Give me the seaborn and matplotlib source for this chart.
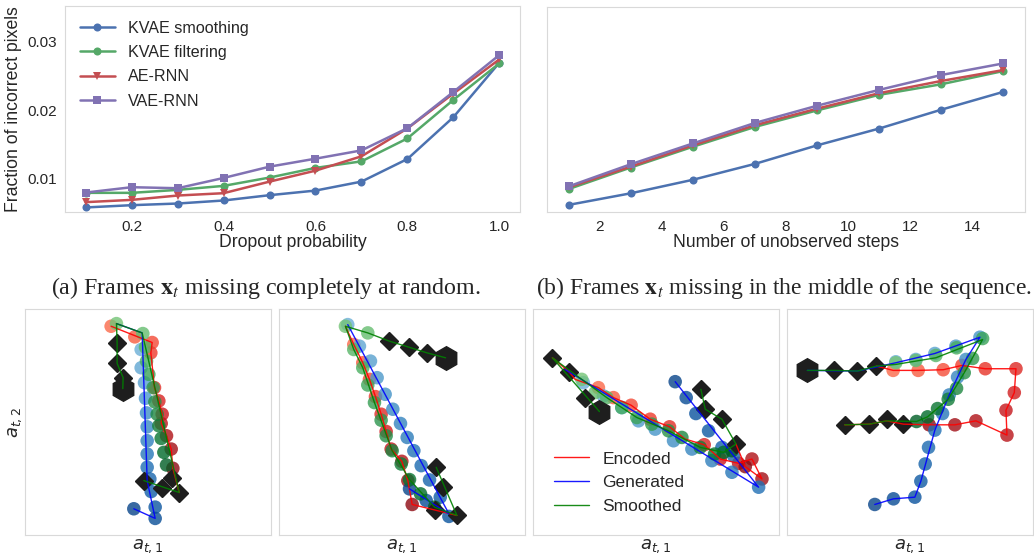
import numpy as np
import matplotlib
matplotlib.use("Agg")
import matplotlib.pyplot as plt
import seaborn as sns

# ---- top row: error curves ----
dropout_prob = [0.1, 0.2, 0.3, 0.4, 0.5, 0.6, 0.7, 0.8, 0.9, 1.0]
drop_kvae_smooth = [0.00586, 0.00619, 0.00643, 0.00687, 0.00764, 0.00831, 0.00961, 0.01289, 0.01896, 0.02687]
drop_kvae_filter = [0.00798, 0.00798, 0.00841, 0.00899, 0.01020, 0.01160, 0.01255, 0.01588, 0.02147, 0.02677]
drop_ae_rnn = [0.00663, 0.00696, 0.00759, 0.00793, 0.00961, 0.01120, 0.01328, 0.01733, 0.02239, 0.02735]
drop_vae_rnn = [0.00802, 0.00880, 0.00865, 0.01014, 0.01178, 0.01294, 0.01414, 0.01737, 0.02263, 0.02798]

unobs_steps = [1, 3, 5, 7, 9, 11, 13, 15]
steps_kvae_smooth = [0.00624, 0.00793, 0.00990, 0.01222, 0.01492, 0.01737, 0.02012, 0.02272]
steps_kvae_filter = [0.00855, 0.01169, 0.01472, 0.01761, 0.02002, 0.02229, 0.02383, 0.02576]
steps_ae_rnn = [0.00880, 0.01183, 0.01492, 0.01786, 0.02027, 0.02253, 0.02431, 0.02590]
steps_vae_rnn = [0.00894, 0.01217, 0.01520, 0.01819, 0.02070, 0.02301, 0.02518, 0.02687]

method_names = ["KVAE smoothing", "KVAE filtering", "AE-RNN", "VAE-RNN"]
method_markers = ["o", "o", "v", "s"]

# ---- bottom row: latent trajectories (read in picture pixels, y down) ----
# panel 1
p1_start = [(297, 243)]
p1_obs = [(280, 104), (280, 167), (297, 212), (360, 520), (413, 541), (445, 513), (466, 558)]
p1_enc = [(262, 55), (333, 87), (385, 104), (381, 135), (392, 240), (405, 280), (415, 320),
          (412, 348), (428, 385), (442, 425), (447, 483)]
p1_gen = [(352, 125), (352, 180), (362, 225), (365, 272), (368, 316), (370, 358), (370, 400),
          (370, 440), (370, 480), (378, 515), (382, 553), (394, 600), (394, 634), (330, 605)]
p1_smo = [(278, 47), (357, 77), (365, 118), (368, 160), (375, 200), (388, 240), (393, 283),
          (400, 320), (405, 355), (412, 393), (420, 435), (428, 473)]
p1_enc_line = [(262, 55), (385, 104), (381, 135), (392, 240), (405, 280), (415, 320), (412, 348),
               (428, 385), (442, 425), (447, 483), (466, 556)]
p1_gen_line = [(278, 47), (355, 75), (370, 520), (394, 634), (330, 605)]
p1_smo_line = [(297, 243), (298, 210), (280, 167), (280, 104), (278, 47), (355, 75),
               (466, 556), (360, 520)]

# panel 2
p2_start = [(503, 150)]
p2_obs = [(335, 100), (393, 118), (447, 135), (475, 478), (495, 540), (470, 608), (537, 625)]
p2_enc = [(228, 110), (255, 165), (275, 215), (293, 267), (310, 320), (325, 372), (340, 425),
          (372, 462), (390, 520), (403, 592)]
p2_gen = [(210, 50), (245, 115), (278, 160), (298, 210), (322, 260), (345, 305), (368, 348),
          (388, 390), (408, 430), (430, 475), (455, 518), (487, 570), (513, 628), (445, 580),
          (395, 545)]
p2_smo = [(203, 55), (270, 75), (228, 125), (255, 180), (270, 232), (290, 285), (310, 338),
          (325, 385), (343, 430), (370, 470), (395, 517), (428, 560), (470, 600)]
p2_enc_line = [(203, 55), (228, 110), (255, 165), (275, 215), (293, 267), (310, 320), (325, 372),
               (340, 425), (372, 462), (390, 520), (403, 592), (537, 625)]
p2_gen_line = [(210, 50), (513, 620), (395, 545)]
p2_smo_line = [(503, 150), (447, 135), (393, 118), (335, 100), (270, 75), (203, 55), (228, 125),
               (255, 180), (290, 285), (343, 430), (395, 517), (470, 600), (537, 625), (475, 480)]

# panel 3
p3_start = [(203, 312)]
p3_obs = [(62, 150), (113, 193), (160, 272), (507, 245), (520, 305), (570, 335), (612, 410)]
p3_enc = [(200, 240), (245, 270), (298, 293), (355, 335), (413, 358), (517, 412), (565, 455),
          (620, 468), (660, 455), (690, 515), (640, 478)]
p3_gen = [(155, 225), (215, 265), (270, 300), (320, 340), (370, 365), (425, 400), (480, 425),
          (540, 460), (600, 495), (680, 540), (605, 445), (570, 420), (530, 370), (492, 318),
          (463, 270), (430, 222)]
p3_smo = [(150, 215), (190, 255), (225, 270), (270, 300), (315, 330), (360, 350), (410, 370),
          (450, 390), (505, 420), (548, 440), (575, 435), (600, 430)]
p3_enc_line = [(62, 150), (113, 193), (130, 215), (200, 240), (245, 270), (298, 293), (355, 335),
               (413, 358), (460, 395), (517, 412), (565, 455), (620, 468), (660, 455), (690, 515),
               (640, 478), (612, 410)]
p3_gen_line = [(100, 185), (680, 540), (430, 222)]
p3_smo_line = [(203, 312), (62, 150), (150, 215), (225, 270), (315, 330), (410, 370), (505, 420),
               (575, 435), (612, 410), (570, 335), (520, 305), (507, 245)]

# panel 4
p4_start = [(65, 188)]
p4_obs = [(145, 188), (215, 190), (272, 175), (177, 352), (250, 350), (303, 333), (353, 350)]
p4_enc = [(322, 188), (397, 188), (472, 186), (528, 173), (598, 183), (690, 183), (685, 255),
          (660, 308), (663, 383), (570, 340), (507, 352), (430, 352)]
p4_gen = [(330, 162), (390, 155), (447, 137), (510, 115), (582, 88), (540, 155), (515, 208),
          (490, 262), (470, 318), (447, 368), (428, 420), (418, 470), (405, 522), (387, 570),
          (323, 575), (267, 592)]
p4_smo = [(330, 165), (390, 158), (450, 143), (512, 120), (590, 92), (560, 152), (535, 195),
          (512, 242), (487, 275), (455, 303), (425, 328), (392, 342)]
p4_enc_line = [(272, 175), (322, 188), (397, 188), (472, 186), (528, 173), (598, 183), (690, 183),
               (685, 255), (660, 308), (663, 383), (570, 340), (507, 352), (430, 352), (353, 350),
               (303, 340), (250, 350), (177, 352)]
p4_gen_line = [(65, 188), (215, 190), (330, 165), (447, 137), (582, 88), (540, 155), (490, 262),
               (447, 368), (405, 522), (387, 570), (323, 575), (267, 592)]
p4_smo_line = [(65, 188), (145, 188), (215, 190), (272, 175), (330, 170), (450, 150), (590, 95),
               (535, 195), (487, 275), (425, 328), (392, 342), (303, 340), (250, 350), (177, 352)]

legend_labels = ["Encoded", "Generated", "Smoothed"]

sns.set_style("whitegrid", {"axes.grid": False})
plt.rcParams["font.family"] = ["Liberation Sans", "DejaVu Sans"]

colors = sns.color_palette("deep6")[:4]
fig = plt.figure(figsize=(10.34, 5.56), dpi=100)
W, H = 1034.0, 556.0


def add_ax(left, top, right, bottom):
    return fig.add_axes([left / W, 1 - bottom / H, (right - left) / W, (bottom - top) / H])


# top left
ax1 = add_ax(65, 6, 520, 212)
for ys, name, mk, c in zip([drop_kvae_smooth, drop_kvae_filter, drop_ae_rnn, drop_vae_rnn],
                           method_names, method_markers, colors):
    sns.lineplot(x=dropout_prob, y=ys, ax=ax1, color=c, marker=mk, markersize=5.8,
                 markeredgewidth=0, linewidth=1.8, label=name)
ax1.set_ylim(0.0052, 0.0351)
ax1.set_yticks([0.01, 0.02, 0.03])
ax1.set_yticklabels(["0.01", "0.02", "0.03"])
ax1.set_xticks([0.2, 0.4, 0.6, 0.8, 1.0])
ax1.set_xlabel("Dropout probability", fontsize=12.7, labelpad=0)
ax1.set_ylabel("Fraction of incorrect pixels", fontsize=12.7, labelpad=4)
ax1.tick_params(labelsize=11, pad=2)
ax1.legend(loc="upper left", frameon=False, fontsize=11.6, handlelength=2.2,
           borderaxespad=0.5, labelspacing=0.58)

# top right
ax2 = add_ax(547, 7, 1025, 212)
for ys, c, mk in zip([steps_kvae_smooth, steps_kvae_filter, steps_ae_rnn, steps_vae_rnn],
                     colors, method_markers):
    sns.lineplot(x=unobs_steps, y=ys, ax=ax2, color=c, marker=mk, markersize=5.8,
                 markeredgewidth=0, linewidth=1.8)
ax2.set_ylim(0.0052, 0.0351)
ax2.set_yticks([0.01, 0.02, 0.03])
ax2.set_yticklabels([])
ax2.set_xlim(0.3, 15.7)
ax2.set_xticks([2, 4, 6, 8, 10, 12, 14])
ax2.set_xlabel("Number of unobserved steps", fontsize=12.7, labelpad=0)
ax2.tick_params(labelsize=11, pad=2)

for ax in (ax1, ax2):
    for s in ax.spines.values():
        s.set_color("0.85")

fig.text(266 / W, 1 - 288 / H, r"(a) Frames $\mathbf{x}_t$ missing completely at random.",
         ha="center", va="center", fontsize=17.3, family="Liberation Serif", math_fontfamily="stix")
fig.text(784 / W, 1 - 288 / H, r"(b) Frames $\mathbf{x}_t$ missing in the middle of the sequence.",
         ha="center", va="center", fontsize=17, family="Liberation Serif", math_fontfamily="stix")


def draw_panel(ax, enc, gen, smo, enc_line, gen_line, smo_line, obs, start):
    for pts, cmap_name in ((enc, "Reds"), (gen, "Blues"), (smo, "Greens")):
        pts = np.array(pts, dtype=float)
        cmap = sns.color_palette(cmap_name, as_cmap=True)
        cols = cmap(np.linspace(0.5, 0.92, len(pts)))
        ax.scatter(pts[:, 0], pts[:, 1], s=95, c=cols, alpha=0.8, edgecolors="none", zorder=2)
    obs = np.array(obs, dtype=float)
    start = np.array(start, dtype=float)
    ax.plot(obs[:, 0], obs[:, 1], "D", color="#1e1e1e", markersize=9, zorder=3)
    ax.plot(start[:, 0], start[:, 1], "h", color="#1e1e1e", markersize=17, zorder=3)
    handles = []
    for line, c in ((enc_line, "red"), (gen_line, "blue"), (smo_line, "green")):
        line = np.array(line, dtype=float)
        h, = ax.plot(line[:, 0], line[:, 1], color=c, linewidth=1.0, zorder=4, alpha=0.9)
        handles.append(h)
    ax.set_xlim(4, 741)
    ax.set_ylim(684, 3)
    ax.set_xticks([])
    ax.set_yticks([])
    for s in ax.spines.values():
        s.set_color("0.85")
    ax.set_xlabel(r"$a_{t,1}$", fontsize=13, labelpad=2)
    return handles


panels = [
    (p1_enc, p1_gen, p1_smo, p1_enc_line, p1_gen_line, p1_smo_line, p1_obs, p1_start),
    (p2_enc, p2_gen, p2_smo, p2_enc_line, p2_gen_line, p2_smo_line, p2_obs, p2_start),
    (p3_enc, p3_gen, p3_smo, p3_enc_line, p3_gen_line, p3_smo_line, p3_obs, p3_start),
    (p4_enc, p4_gen, p4_smo, p4_enc_line, p4_gen_line, p4_smo_line, p4_obs, p4_start),
]
lefts = [25, 279, 533, 787]
for i, (left, args) in enumerate(zip(lefts, panels)):
    ax = add_ax(left, 309, left + 246, 535)
    handles = draw_panel(ax, *args)
    if i == 0:
        ax.set_ylabel(r"$a_{t,2}$", fontsize=13, labelpad=1)
    if i == 2:
        ax.legend(handles, legend_labels, loc="lower left", frameon=False, fontsize=12.5,
                  handlelength=2.0, borderaxespad=0.8, labelspacing=0.5)

fig.savefig("out.png", dpi=100)
